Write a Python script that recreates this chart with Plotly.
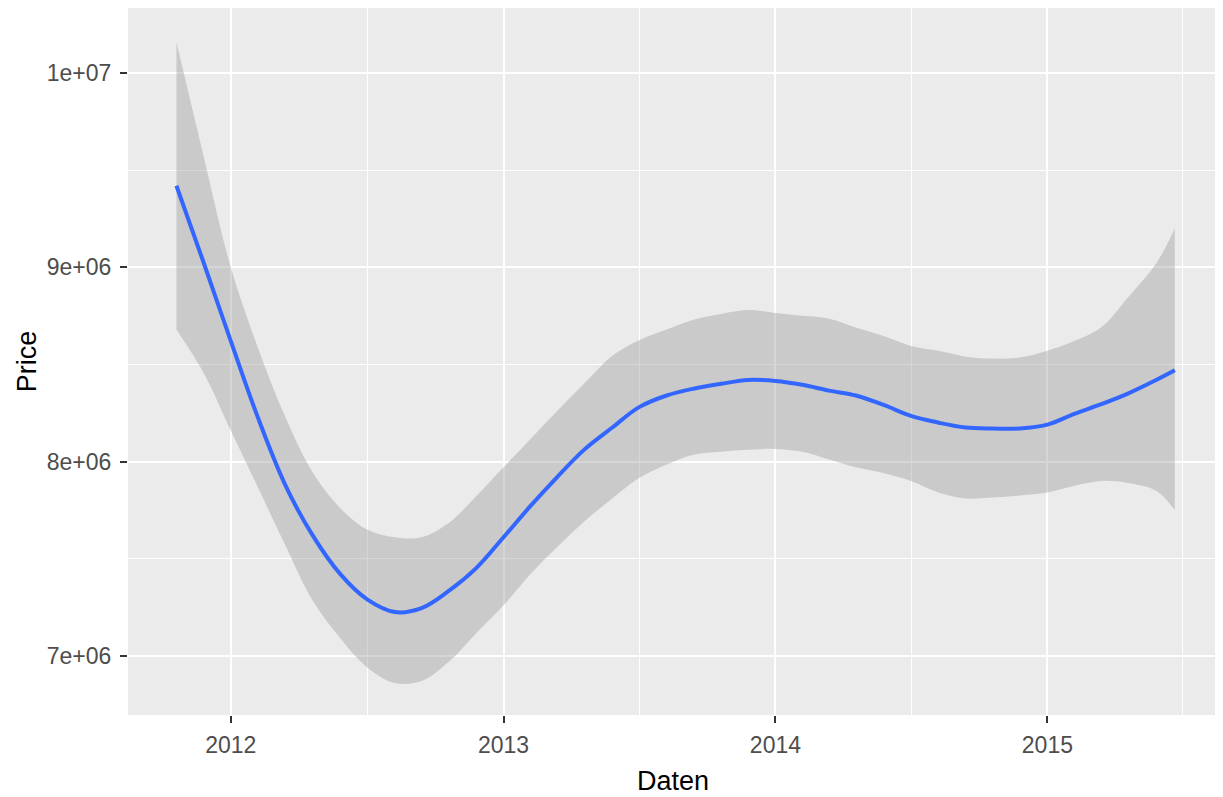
import numpy as np
import plotly.graph_objects as go

# loess-type smooth of price over time
dates = [
    "2011-10-20", "2011-11-25",
    "2012-01-01", "2012-02-06", "2012-03-14", "2012-04-19", "2012-05-27",
    "2012-07-02", "2012-08-08", "2012-09-13", "2012-10-20", "2012-11-25",
    "2013-01-01", "2013-02-06", "2013-03-14", "2013-04-19", "2013-05-27",
    "2013-07-02", "2013-08-08", "2013-09-13", "2013-10-20", "2013-11-25",
    "2014-01-01", "2014-02-06", "2014-03-14", "2014-04-19", "2014-05-27",
    "2014-07-02", "2014-08-08", "2014-09-13", "2014-10-20", "2014-11-25",
    "2015-01-01", "2015-02-06", "2015-03-14", "2015-04-19", "2015-05-27",
    "2015-06-21",
]

# values in millions
price_fit = [
    9.42, 9.03,
    8.62, 8.23, 7.88, 7.625, 7.42, 7.29, 7.225, 7.245, 7.335, 7.45,
    7.61, 7.77, 7.92, 8.06, 8.175, 8.28, 8.34, 8.375, 8.40, 8.42,
    8.415, 8.395, 8.365, 8.34, 8.29, 8.235, 8.20, 8.175, 8.17, 8.17,
    8.19, 8.245, 8.295, 8.35, 8.42, 8.47,
]
price_upper = [
    10.16, 9.58,
    9.00, 8.59, 8.23, 7.95, 7.76, 7.65, 7.61, 7.61, 7.685, 7.82,
    7.97, 8.115, 8.26, 8.40, 8.545, 8.625, 8.68, 8.73, 8.76, 8.78,
    8.765, 8.75, 8.735, 8.69, 8.645, 8.595, 8.57, 8.54, 8.53, 8.535,
    8.57, 8.62, 8.69, 8.845, 9.02, 9.20,
]
price_lower = [
    8.68, 8.46,
    8.16, 7.87, 7.57, 7.29, 7.09, 6.94, 6.86, 6.87, 6.97, 7.115,
    7.26, 7.42, 7.56, 7.69, 7.81, 7.915, 7.985, 8.035, 8.05, 8.06,
    8.065, 8.05, 8.01, 7.97, 7.94, 7.90, 7.84, 7.81, 7.815, 7.825,
    7.84, 7.875, 7.90, 7.89, 7.85, 7.75,
]

y_ticks = [7e6, 8e6, 9e6, 1e7]
y_tick_labels = ["7e+06", "8e+06", "9e+06", "1e+07"]
x_ticks = ["2012-01-01", "2013-01-01", "2014-01-01", "2015-01-01"]
x_tick_labels = ["2012", "2013", "2014", "2015"]

fit = np.array(price_fit) * 1e6
upper = np.array(price_upper) * 1e6
lower = np.array(price_lower) * 1e6

fig = go.Figure()

# confidence band
fig.add_trace(go.Scatter(x=dates, y=lower, mode="lines", line=dict(width=0, shape="spline"),
                         hoverinfo="skip", showlegend=False))
fig.add_trace(go.Scatter(x=dates, y=upper, mode="lines", line=dict(width=0, shape="spline"),
                         fill="tonexty", fillcolor="rgba(153,153,153,0.4)",
                         hoverinfo="skip", showlegend=False))
# smooth line
fig.add_trace(go.Scatter(x=dates, y=fit, mode="lines",
                         line=dict(color="#3366FF", width=4, shape="spline"),
                         showlegend=False))

font_ticks = dict(family="Liberation Sans, Arial, sans-serif", size=23, color="#4D4D4D")
font_title = dict(family="Liberation Sans, Arial, sans-serif", size=27, color="black")

fig.update_xaxes(
    range=["2011-08-16", "2015-08-18"],
    tickvals=x_ticks, ticktext=x_tick_labels,
    ticks="outside", ticklen=7, tickwidth=2, tickcolor="#333333",
    tickfont=font_ticks, ticklabelstandoff=2,
    showgrid=True, gridcolor="white", gridwidth=2,
    minor=dict(tickvals=["2012-07-02", "2013-07-02", "2014-07-02", "2015-07-02"],
               showgrid=True, gridcolor="white", gridwidth=1, ticks=""),
    zeroline=False, showline=False,
    title=dict(text="Daten", font=font_title, standoff=14),
)
fig.update_yaxes(
    range=[6.695e6, 1.0335e7],
    tickvals=y_ticks, ticktext=y_tick_labels,
    ticks="outside", ticklen=7, tickwidth=2, tickcolor="#333333",
    tickfont=font_ticks, ticklabelstandoff=4,
    showgrid=True, gridcolor="white", gridwidth=2,
    minor=dict(tickvals=[7.5e6, 8.5e6, 9.5e6],
               showgrid=True, gridcolor="white", gridwidth=1, ticks=""),
    zeroline=False, showline=False,
    title=dict(text="Price", font=font_title, standoff=2),
)

# the page body has an 8px margin, so the figure is shifted and trimmed to fit
fig.update_layout(
    width=1215, height=789,
    margin=dict(l=120, r=5, t=0, b=82, autoexpand=False),
    plot_bgcolor="#EBEBEB", paper_bgcolor="white",
    showlegend=False,
)

fig.write_html("out.html")
